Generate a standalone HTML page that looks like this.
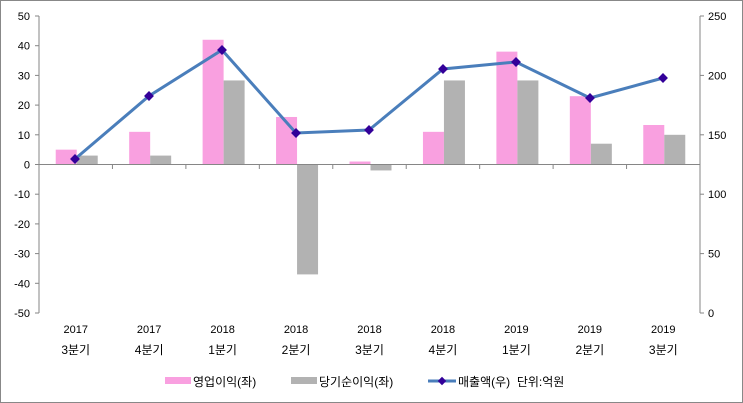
<!DOCTYPE html>
<html><head><meta charset="utf-8"><style>
body{margin:0;background:#fff}
svg{display:block;font-family:"Liberation Sans","Noto Sans CJK KR",sans-serif}
</style></head><body>
<svg width="743" height="403" viewBox="0 0 743 403">
<rect x="0.5" y="0.5" width="742" height="402" fill="#fff" stroke="#888"/>
<g id="bars"></g>
<g stroke="#868686" stroke-width="1" fill="none">
<line x1="39" y1="16" x2="39" y2="313"/>
<line x1="700" y1="16" x2="700" y2="313"/>
<line x1="39" y1="164.5" x2="700" y2="164.5"/>
</g>
<g id="ticks" stroke="#868686"></g>
<g id="lbl" font-size="11" fill="#000"></g>
<polyline points="75,159 149,96 222,50 296,133 369,130 443,69 516,62 590,98 663,78" fill="none" stroke="#4a7ebb" stroke-width="3"/>
<g id="mk" fill="#330099"></g>
<g font-size="12">
<rect x="165" y="377" width="26" height="7" fill="#f9a0e0"/>
<text x="193" y="386">영업이익(좌)</text>
<rect x="291" y="377" width="26" height="7" fill="#b2b2b2"/>
<text x="319" y="386">당기순이익(좌)</text>
<line x1="428" y1="381" x2="456" y2="381" stroke="#4a7ebb" stroke-width="3"/>
<rect x="439" y="378" width="6" height="6" fill="#330099" transform="rotate(45 442 381)"/>
<text x="458" y="386" xml:space="preserve">매출액(우)&#160; 단위:억원</text>
</g>
</svg>
<script>
const ns="http://www.w3.org/2000/svg";
function el(p,t,a,txt){const e=document.createElementNS(ns,t);for(const k in a)e.setAttribute(k,a[k]);if(txt!==undefined)e.textContent=txt;document.getElementById(p).appendChild(e);}
const pink=[5,11,42,16,1,11,38,23,13.3],gray=[3,3,28.3,-37,-2,28.3,28.3,7,10];
const y=v=>164.5-v*2.97;
const cw=(700-39)/9;
for(let i=0;i<9;i++){
 const c=39+cw*(i+0.5);
 const p=pink[i],g=gray[i];
 el("bars","rect",{x:c-20,y:Math.min(y(p),164.5),width:21,height:Math.abs(p*2.97),fill:"#f9a0e0"});
 el("bars","rect",{x:c+1,y:Math.min(y(g),164.5),width:21,height:Math.abs(g*2.97),fill:"#b2b2b2"});
 el("lbl","text",{x:c,y:333,"text-anchor":"middle"},["2017","2017","2018","2018","2018","2018","2019","2019","2019"][i]);
 el("lbl","text",{x:c,y:354,"text-anchor":"middle","font-size":"12"},["3분기","4분기","1분기","2분기","3분기","4분기","1분기","2분기","3분기"][i]);
}
for(let i=0;i<=9;i++){const x=39+cw*i;el("ticks","line",{x1:x,y1:164.5,x2:x,y2:169});}
for(let v=-50;v<=50;v+=10){const yy=y(v);el("ticks","line",{x1:35,y1:yy,x2:39,y2:yy});el("lbl","text",{x:30,y:yy+4,"text-anchor":"end"},v);}
for(let v=0;v<=250;v+=50){const yy=313-v*297/250;el("ticks","line",{x1:700,y1:yy,x2:704,y2:yy});el("lbl","text",{x:708,y:yy+4},v);}
const pts=[[75,159],[149,96],[222,50],[296,133],[369,130],[443,69],[516,62],[590,98],[663,78]];
for(const [a,b] of pts)el("mk","rect",{x:a-3.5,y:b-3.5,width:7,height:7,transform:`rotate(45 ${a} ${b})`});
</script>
</body></html>
